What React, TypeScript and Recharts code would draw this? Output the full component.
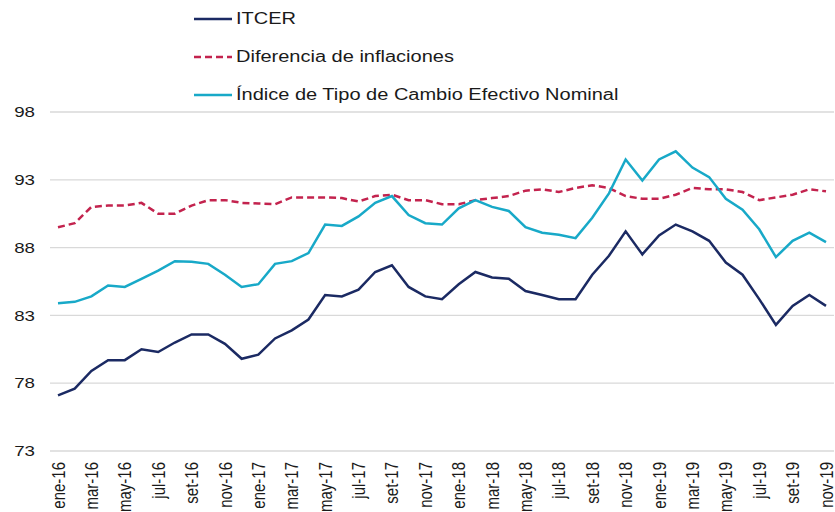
import { CartesianGrid, Legend, Line, LineChart, XAxis, YAxis } from "recharts";

const months = [
  "ene-16", "feb-16", "mar-16", "abr-16", "may-16", "jun-16", "jul-16", "ago-16", "set-16", "oct-16", "nov-16", "dic-16",
  "ene-17", "feb-17", "mar-17", "abr-17", "may-17", "jun-17", "jul-17", "ago-17", "set-17", "oct-17", "nov-17", "dic-17",
  "ene-18", "feb-18", "mar-18", "abr-18", "may-18", "jun-18", "jul-18", "ago-18", "set-18", "oct-18", "nov-18", "dic-18",
  "ene-19", "feb-19", "mar-19", "abr-19", "may-19", "jun-19", "jul-19", "ago-19", "set-19", "oct-19", "nov-19",
];

const itcer = [
  77.1, 77.6, 78.9, 79.7, 79.7, 80.5, 80.3, 81.0, 81.6, 81.6, 80.9, 79.8,
  80.1, 81.3, 81.9, 82.7, 84.5, 84.4, 84.9, 86.2, 86.7, 85.1, 84.4, 84.2,
  85.3, 86.2, 85.8, 85.7, 84.8, 84.5, 84.2, 84.2, 86.0, 87.4, 89.2, 87.5,
  88.9, 89.7, 89.2, 88.5, 86.9, 86.0, 84.2, 82.3, 83.7, 84.5, 83.7,
];

const difInflaciones = [
  89.5, 89.8, 91.0, 91.1, 91.1, 91.3, 90.5, 90.5, 91.1, 91.5, 91.5, 91.3,
  91.25, 91.2, 91.7, 91.7, 91.7, 91.65, 91.4, 91.8, 91.9, 91.5, 91.5, 91.2,
  91.2, 91.5, 91.65, 91.8, 92.2, 92.3, 92.1, 92.4, 92.6, 92.4, 91.8, 91.6,
  91.6, 91.9, 92.4, 92.3, 92.3, 92.1, 91.5, 91.7, 91.9, 92.3, 92.15,
];

const itcen = [
  83.9, 84.0, 84.4, 85.2, 85.1, 85.7, 86.3, 87.0, 86.95, 86.8, 86.0, 85.1,
  85.3, 86.8, 87.0, 87.6, 89.7, 89.6, 90.3, 91.3, 91.8, 90.4, 89.8, 89.7,
  90.9, 91.5, 91.0, 90.7, 89.5, 89.1, 88.95, 88.7, 90.2, 92.0, 94.5, 92.95,
  94.5, 95.1, 93.9, 93.2, 91.6, 90.8, 89.35, 87.3, 88.5, 89.1, 88.4,
];

const yTicks = [73, 78, 83, 88, 93, 98];

const NAVY = "#1b2a63";
const CRIMSON = "#c3234e";
const CYAN = "#18a9c8";
const TEXT = "#1a1a1a";
const FONT = "'Liberation Sans', Arial, sans-serif";
const STRETCH = 1.25;

const chartData = months.map((mes, i) => ({
  mes,
  itcer: itcer[i],
  dif: difInflaciones[i],
  itcen: itcen[i],
}));

const legendItems = [
  { label: "ITCER", color: NAVY, dash: undefined },
  { label: "Diferencia de inflaciones", color: CRIMSON, dash: "7 4" },
  { label: "Índice de Tipo de Cambio Efectivo Nominal", color: CYAN, dash: undefined },
];

function YTick({ x, y, payload }: any) {
  return (
    <text
      transform={`translate(${x},${y}) scale(${STRETCH},1)`}
      textAnchor="end"
      dy="0.35em"
      fontSize={15}
      fontFamily={FONT}
      fill={TEXT}
    >
      {payload.value}
    </text>
  );
}

function XTick({ x, y, payload }: any) {
  return (
    <text
      transform={`translate(${x},${y}) scale(${STRETCH},1) rotate(-90)`}
      textAnchor="end"
      dy="0.35em"
      fontSize={15}
      fontFamily={FONT}
      fill={TEXT}
    >
      {payload.value}
    </text>
  );
}

function LegendBox() {
  return (
    <div style={{ fontFamily: FONT, fontSize: 16, color: TEXT }}>
      {legendItems.map((it) => (
        <div key={it.label} style={{ height: 38, display: "flex", alignItems: "center" }}>
          <svg width={42} height={10}>
            <line x1={4} x2={42} y1={5} y2={5} stroke={it.color} strokeWidth={2.5} strokeDasharray={it.dash} />
          </svg>
          <span
            style={{
              marginLeft: 4,
              display: "inline-block",
              whiteSpace: "nowrap",
              transform: `scaleX(${STRETCH})`,
              transformOrigin: "left center",
            }}
          >
            {it.label}
          </span>
        </div>
      ))}
    </div>
  );
}

export default function App() {
  return (
    <div style={{ position: "absolute", left: 0, top: 0, background: "#fff" }}>
      <LineChart width={835} height={512} data={chartData} margin={{ top: 112, right: 1, bottom: 0, left: 0 }}>
        <CartesianGrid vertical={false} stroke="#d9d9d9" strokeWidth={1.3} />
        <XAxis
          dataKey="mes"
          interval={1}
          height={61}
          axisLine={false}
          tickLine={false}
          tickSize={0}
          tickMargin={11}
          padding={{ left: 8, right: 8 }}
          tick={<XTick />}
        />
        <YAxis
          domain={[73, 98]}
          ticks={yTicks}
          interval={0}
          width={50}
          axisLine={false}
          tickLine={false}
          tickSize={0}
          tickMargin={15}
          tick={<YTick />}
        />
        <Legend
          layout="horizontal"
          verticalAlign="middle"
          align="center"
          wrapperStyle={{ left: 190, top: 0, width: "auto", height: "auto" }}
          content={<LegendBox />}
        />
        <Line type="linear" dataKey="itcer" name="ITCER" stroke={NAVY} strokeWidth={2.5} dot={false} isAnimationActive={false} />
        <Line
          type="linear"
          dataKey="dif"
          name="Diferencia de inflaciones"
          stroke={CRIMSON}
          strokeWidth={2.5}
          strokeDasharray="7 4"
          dot={false}
          isAnimationActive={false}
        />
        <Line
          type="linear"
          dataKey="itcen"
          name="Índice de Tipo de Cambio Efectivo Nominal"
          stroke={CYAN}
          strokeWidth={2.5}
          dot={false}
          isAnimationActive={false}
        />
      </LineChart>
    </div>
  );
}
